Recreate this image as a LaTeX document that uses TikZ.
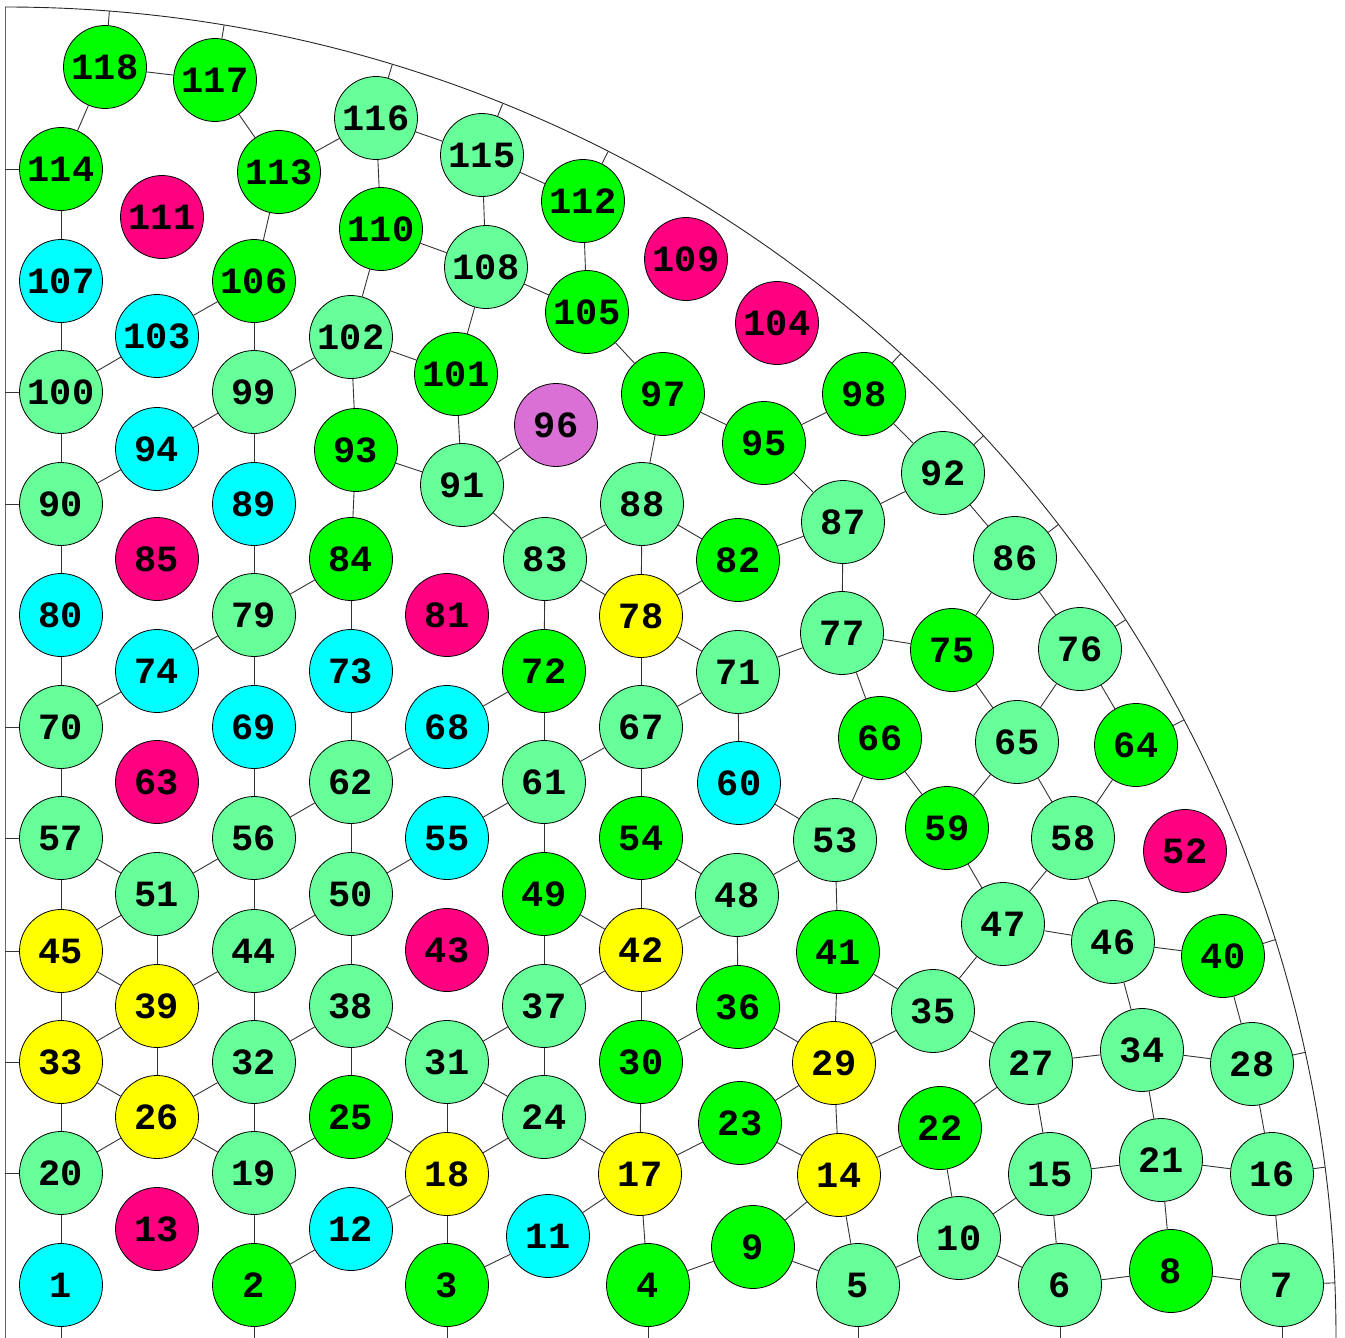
\documentclass[tikz,border=0pt]{standalone}
\usepackage{fontspec}
\usetikzlibrary{calc}
\newfontfamily\labfont{Liberation Mono}
\definecolor{cLGc}{HTML}{66FF99}
\definecolor{cGRc}{HTML}{00FF00}
\definecolor{cCYc}{HTML}{00FFFF}
\definecolor{cYEc}{HTML}{FFFF00}
\definecolor{cMGc}{HTML}{FF0080}
\definecolor{cPUc}{HTML}{DA70D6}
\tikzset{
  fuel/.style={circle, draw=black, line width=0.8pt, minimum size=83pt, inner sep=0pt,
    font=\labfont\bfseries\fontsize{37}{37}\selectfont, text=black},
  cLG/.style={fuel, fill=cLGc},
  cGR/.style={fuel, fill=cGRc},
  cCY/.style={fuel, fill=cCYc},
  cYE/.style={fuel, fill=cYEc},
  cMG/.style={fuel, fill=cMGc},
  cPU/.style={fuel, fill=cPUc},
  edge/.style={draw=black!80, line width=0.9pt},
  tick/.style={draw=black!80, line width=0.9pt},
  rim/.style={draw=black!85, line width=0.9pt}
}
\begin{document}
\begin{tikzpicture}[x=1pt, y=-1pt]
\useasboundingbox (0,0) rectangle (1345,1338);
\coordinate (C) at (5,1338);
\coordinate (L) at (5,0);
\coordinate (B) at (0,1338);
\coordinate (T) at (5,7);
\draw[draw=black!60, line width=1pt] (C) -- (T);
\draw[rim] (T) arc[start angle=-90, end angle=0, radius=1331];
\foreach \n/\x/\y/\s in {
1/61/1285/cCY, 2/254/1285/cGR, 3/447/1285/cGR, 4/648/1285/cGR, 5/858/1285/cLG,
6/1060/1285/cLG, 7/1282/1285/cLG, 8/1171/1271/cGR, 9/753/1247/cGR, 10/959/1238/cLG,
11/548/1236/cCY, 12/351/1229/cCY, 13/157/1229/cMG, 14/839/1175/cYE, 15/1050/1174/cLG,
16/1272/1174/cLG, 17/640/1174/cYE, 18/447/1174/cYE, 19/254/1173/cLG, 20/61/1173/cLG,
21/1161/1160/cLG, 22/940/1128/cGR, 23/740/1123/cGR, 24/544/1117/cLG, 25/351/1117/cGR,
26/157/1117/cYE, 27/1031/1063/cLG, 28/1252/1064/cLG, 29/834/1063/cYE, 30/641/1062/cGR,
31/447/1062/cLG, 32/254/1062/cLG, 33/61/1062/cYE, 34/1142/1050/cLG, 35/933/1011/cLG,
36/738/1007/cGR, 37/544/1006/cLG, 38/351/1006/cLG, 39/157/1006/cYE, 40/1223/956/cGR,
41/838/952/cGR, 42/641/950/cYE, 43/447/950/cMG, 44/254/951/cLG, 45/61/951/cYE,
46/1113/942/cLG, 47/1003/924/cLG, 48/737/895/cLG, 49/544/894/cGR, 50/351/894/cLG,
51/157/894/cLG, 52/1185/851/cMG, 53/835/840/cLG, 54/641/838/cGR, 55/447/838/cCY,
56/254/838/cLG, 57/61/838/cLG, 58/1073/838/cLG, 59/947/828/cGR, 60/739/783/cCY,
61/544/782/cLG, 62/351/782/cLG, 63/157/782/cMG, 64/1136/745/cGR, 65/1017/742/cLG,
66/880/738/cGR, 67/641/727/cLG, 68/447/727/cCY, 69/254/727/cCY, 70/61/727/cLG,
71/738/672/cLG, 72/544/671/cGR, 73/351/671/cCY, 74/157/671/cCY, 75/952/650/cGR,
76/1080/649/cLG, 77/842/633/cLG, 78/641/616/cYE, 79/254/615/cLG, 80/61/615/cCY,
81/447/615/cMG, 82/738/560/cGR, 83/545/559/cLG, 84/351/559/cGR, 85/157/559/cMG,
86/1015/558/cLG, 87/843/522/cLG, 88/642/504/cLG, 89/254/504/cCY, 90/61/504/cLG,
91/462/485/cLG, 92/943/473/cLG, 93/356/450/cGR, 94/157/449/cCY, 95/764/443/cGR,
96/556/425/cPU, 97/663/394/cGR, 98/864/394/cGR, 99/254/392/cLG, 100/61/392/cLG,
101/456/374/cGR, 102/351/337/cLG, 103/157/336/cCY, 104/777/323/cMG, 105/587/312/cGR,
106/254/281/cGR, 107/61/281/cCY, 108/486/267/cLG, 109/686/259/cMG, 110/381/229/cGR,
111/162/217/cMG, 112/583/201/cGR, 113/279/172/cGR, 114/61/169/cGR, 115/482/155/cLG,
116/376/118/cLG, 117/215/80/cGR, 118/105/67/cGR}
  \node[\s] (n\n) at (\x,\y) {\n};
\foreach \a/\b in {
118/114, 118/117, 117/113, 113/116, 113/106, 116/110, 116/115, 115/108, 115/112,
110/108, 110/102, 108/105, 108/101, 112/105, 105/97, 97/95, 97/88, 95/98, 95/87,
98/92, 92/87, 92/86, 87/82, 87/77, 86/75, 86/76,
114/107, 107/100, 100/103, 103/106, 106/99, 99/102, 99/94, 94/90, 100/90, 90/80,
99/89, 89/79, 79/74, 79/84, 74/70, 80/70, 79/69, 70/57, 69/56, 57/51, 51/56, 56/62,
56/44, 57/45, 51/45, 51/39, 45/39, 45/33, 39/44, 39/33, 39/26, 44/50, 44/32, 33/26,
33/20, 26/32, 26/20, 26/19, 32/38, 32/19, 20/1, 19/25, 19/2, 2/12, 12/18,
102/93, 93/84, 84/73, 73/62, 62/68, 62/50, 50/55, 50/38, 38/25, 38/31, 25/18,
102/101, 93/91, 101/91, 91/96, 91/83,
31/18, 18/3, 31/37, 31/24, 18/24, 3/11, 11/17, 24/37, 24/17, 37/49, 37/42, 49/61,
49/42, 61/72, 61/55, 61/67, 72/68, 72/83, 83/88, 83/78, 88/78, 88/82, 78/82, 78/71,
78/67, 67/71, 67/54, 71/77, 71/60, 77/75, 77/66, 60/53, 66/53, 66/59, 75/65, 76/65,
76/64, 65/59, 65/58, 64/58, 54/48, 54/42, 48/53, 48/42, 48/36, 53/41, 59/47, 58/47,
58/46, 47/46, 46/40, 46/34, 47/35, 41/35, 41/29, 42/30, 36/30, 36/29, 35/29, 35/27,
27/34, 34/28, 40/28, 27/22, 27/15, 34/21, 28/16, 30/17, 29/23, 29/14, 23/17, 23/14,
22/14, 22/10, 15/10, 15/21, 21/16, 15/6, 21/8, 16/7, 6/8, 8/7, 10/6, 10/5, 14/5,
14/9, 9/4, 9/5, 17/4}
  \draw[edge] (n\a) -- (n\b);
% ticks to the outer arc
\foreach \n in {118,117,116,115,112,98,92,86,76,64,40,28,16,7} {
  \coordinate (r\n) at ($(C)!1331pt!(n\n)$);
  \draw[tick] (n\n) -- (r\n);
}
% ticks to the bottom edge
\foreach \n in {1,2,3,4,5,6,7} {
  \coordinate (b\n) at (n\n |- B);
  \draw[tick] (n\n) -- (b\n);
}
% ticks to the left edge
\foreach \n in {114,100,90,70,57,45,33,20} {
  \coordinate (l\n) at (n\n -| L);
  \draw[tick] (n\n) -- (l\n);
}
\end{tikzpicture}
\end{document}
